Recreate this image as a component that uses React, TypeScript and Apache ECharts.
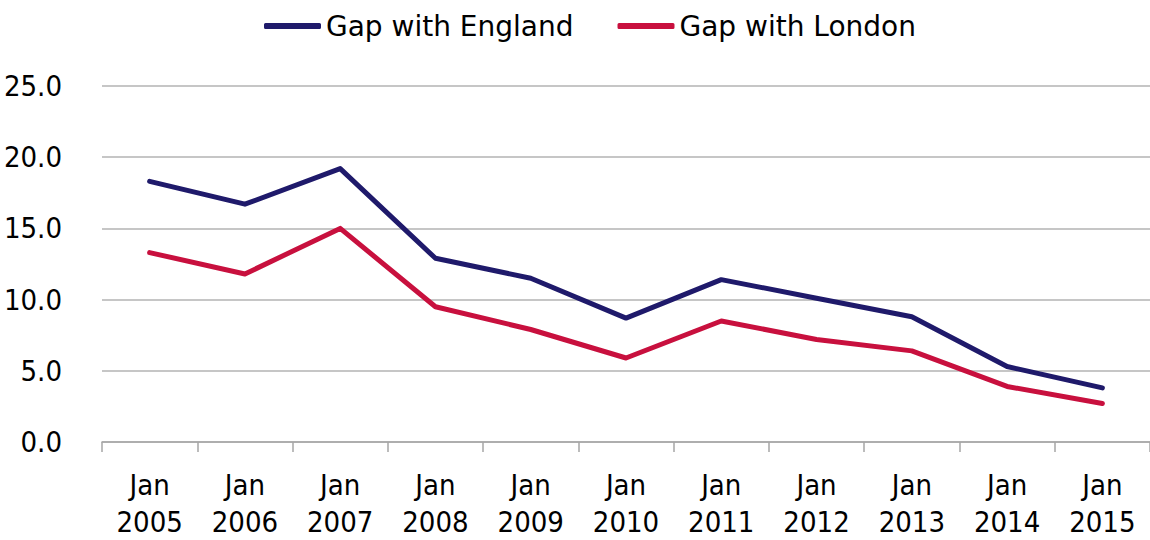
import React, { useEffect, useRef } from "react";
import * as echarts from "echarts";

const years = ["2005", "2006", "2007", "2008", "2009", "2010", "2011", "2012", "2013", "2014", "2015"];
const gapEngland = [18.3, 16.7, 19.2, 12.9, 11.5, 8.7, 11.4, 10.1, 8.8, 5.3, 3.8];
const gapLondon = [13.3, 11.8, 15.0, 9.5, 7.9, 5.9, 8.5, 7.2, 6.4, 3.9, 2.7];
const seriesNames = ["Gap with England", "Gap with London"];

const FONT = '"DejaVu Sans Condensed", "DejaVu Sans", sans-serif';
const LEGEND_FONT = '"DejaVu Sans", sans-serif';

export default function App() {
  const ref = useRef<HTMLDivElement>(null);
  useEffect(() => {
    document.body.style.margin = "0";
    document.body.style.overflow = "hidden";
    const chart = echarts.init(ref.current!, null, { renderer: "svg" });
    chart.setOption({
      animation: false,
      textStyle: { fontFamily: FONT },
      legend: {
        top: 7,
        left: 259,
        itemWidth: 57,
        itemHeight: 6,
        itemGap: 44,
        icon: "roundRect",
        textStyle: { fontSize: 28, color: "#000", fontFamily: LEGEND_FONT },
        data: seriesNames,
      },
      grid: { left: 102, right: -8, top: 86, bottom: 97, containLabel: false },
      xAxis: {
        type: "category",
        data: years,
        boundaryGap: true,
        axisLine: { lineStyle: { color: "#A6A6A6", width: 1.5 } },
        axisTick: { show: true, length: 10, lineStyle: { color: "#A6A6A6", width: 1.5 } },
        axisLabel: {
          formatter: (v: string) => "Jan\n" + v,
          fontSize: 29,
          lineHeight: 37,
          color: "#000",
          margin: 24,
          fontFamily: FONT,
          interval: 0,
        },
      },
      yAxis: {
        type: "value",
        min: 0,
        max: 25,
        interval: 5,
        axisLine: { show: false },
        axisTick: { show: false },
        axisLabel: {
          formatter: (v: number) => v.toFixed(1),
          fontSize: 29,
          color: "#000",
          margin: 40,
          fontFamily: FONT,
        },
        splitLine: { lineStyle: { color: "#B3B3B3", width: 1.5 } },
      },
      series: [
        {
          name: seriesNames[0],
          type: "line",
          data: gapEngland,
          symbol: "none",
          color: "#1F1A6B",
          lineStyle: { width: 5, color: "#1F1A6B", cap: "round", join: "round" },
        },
        {
          name: seriesNames[1],
          type: "line",
          data: gapLondon,
          symbol: "none",
          color: "#C8103E",
          lineStyle: { width: 5, color: "#C8103E", cap: "round", join: "round" },
        },
      ],
    });
    return () => chart.dispose();
  }, []);
  return <div ref={ref} style={{ width: 1150, height: 540 }} />;
}
